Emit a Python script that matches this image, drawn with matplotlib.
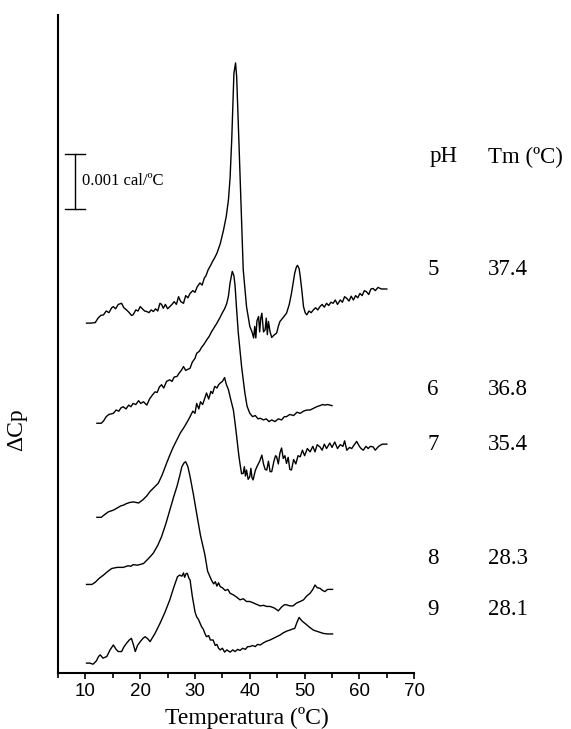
"""DSC thermograms of the protein at different pH, stacked vertically."""

import numpy as np
from matplotlib import pyplot as plt

# Temperature (ºC) and offset ΔCp (mcal/ºC) for each scan
t_ph5 = [10.2, 11.0, 11.8, 12.3, 12.8, 13.3, 13.8, 14.3, 14.8, 15.1, 15.5, 16.0,
         16.6, 17.0, 17.5, 18.0, 18.4, 18.7, 19.2, 19.6, 20.0, 20.4, 20.8, 21.2,
         21.6, 22.0, 22.4, 22.8, 23.2, 23.6, 23.9, 24.2, 24.6, 25.0, 25.4, 25.8,
         26.2, 26.6, 27.0, 27.4, 27.9, 28.3, 28.7, 29.1, 29.6, 30.0, 30.4, 30.9,
         31.3, 31.7, 32.0, 32.4, 32.8, 33.2, 33.6, 34.0, 34.6, 35.2, 35.7, 36.1,
         36.4, 36.7, 37.1, 37.4, 37.6, 38.0, 38.5, 38.8, 39.4, 40.0, 40.4, 40.7,
         40.9, 41.1, 41.3, 41.6, 41.8, 42.0, 42.2, 42.5, 42.8, 43.0, 43.2, 43.4,
         43.7, 44.0, 44.4, 44.9, 45.2, 45.5, 46.0, 46.7, 47.2, 47.6, 48.0, 48.2,
         48.5, 48.7, 49.0, 49.2, 49.5, 49.8, 50.1, 50.4, 50.8, 51.2, 51.6, 52.0,
         52.4, 52.8, 53.2, 53.6, 54.0, 54.4, 54.8, 55.2, 55.6, 56.0, 56.5, 56.9,
         57.3, 57.7, 58.1, 58.5, 58.9, 59.3, 59.7, 60.1, 60.5, 60.9, 61.3, 61.7,
         62.1, 62.5, 62.9, 63.4, 64.0, 65.0]
cp_ph5 = [6.36, 6.36, 6.37, 6.45, 6.50, 6.51, 6.58, 6.55, 6.64, 6.66, 6.62, 6.70,
          6.72, 6.64, 6.60, 6.55, 6.50, 6.51, 6.60, 6.58, 6.66, 6.62, 6.58, 6.57,
          6.55, 6.60, 6.57, 6.62, 6.58, 6.72, 6.70, 6.63, 6.70, 6.62, 6.66, 6.70,
          6.75, 6.70, 6.84, 6.75, 6.72, 6.86, 6.82, 6.90, 6.95, 6.92, 7.02, 7.09,
          7.05, 7.18, 7.22, 7.33, 7.40, 7.48, 7.55, 7.63, 7.80, 8.05, 8.30, 8.60,
          9.00, 9.69, 10.90, 11.09, 10.84, 9.69, 8.18, 7.33, 6.66, 6.30, 6.20, 6.09,
          6.30, 6.09, 6.40, 6.48, 6.20, 6.45, 6.54, 6.20, 6.24, 6.45, 6.15, 6.39,
          6.20, 6.10, 6.14, 6.18, 6.30, 6.39, 6.45, 6.54, 6.70, 6.90, 7.15, 7.27,
          7.38, 7.41, 7.35, 7.21, 6.95, 6.66, 6.55, 6.51, 6.58, 6.55, 6.60, 6.64,
          6.60, 6.66, 6.70, 6.65, 6.72, 6.68, 6.74, 6.72, 6.78, 6.70, 6.78, 6.74,
          6.84, 6.81, 6.76, 6.85, 6.78, 6.86, 6.82, 6.90, 6.86, 6.95, 6.93, 6.88,
          6.98, 6.99, 6.95, 7.01, 6.98, 6.98]

t_ph6 = [12.1, 12.9, 13.3, 13.8, 14.3, 15.1, 15.6, 16.1, 16.5, 16.9, 17.4, 17.9,
         18.3, 18.7, 19.2, 19.7, 20.1, 20.6, 21.2, 21.7, 22.2, 22.7, 23.1, 23.5,
         23.9, 24.3, 24.8, 25.4, 25.8, 26.2, 26.7, 27.1, 27.5, 27.9, 28.3, 28.7,
         29.1, 29.5, 30.0, 30.3, 30.8, 31.2, 31.6, 32.1, 32.6, 33.0, 33.5, 34.0,
         34.5, 35.0, 35.4, 35.8, 36.1, 36.4, 36.8, 37.1, 37.3, 37.6, 37.9, 38.5,
         39.1, 39.5, 40.0, 40.5, 41.0, 41.5, 41.9, 42.5, 43.0, 43.5, 44.0, 44.6,
         45.2, 45.8, 46.3, 46.7, 47.3, 48.0, 48.6, 49.2, 49.8, 50.4, 51.0, 51.6,
         52.2, 52.8, 53.3, 53.7, 54.2, 55.0]
cp_ph6 = [4.54, 4.54, 4.58, 4.66, 4.70, 4.72, 4.78, 4.76, 4.82, 4.84, 4.80, 4.87,
          4.84, 4.90, 4.88, 4.95, 4.90, 4.93, 4.87, 4.98, 5.05, 5.11, 5.10, 5.20,
          5.24, 5.18, 5.30, 5.33, 5.30, 5.38, 5.39, 5.45, 5.50, 5.57, 5.50, 5.52,
          5.54, 5.65, 5.72, 5.81, 5.85, 5.92, 5.97, 6.05, 6.12, 6.20, 6.28, 6.36,
          6.45, 6.55, 6.62, 6.72, 6.85, 7.09, 7.30, 7.22, 7.05, 6.60, 6.18, 5.57,
          5.09, 4.85, 4.72, 4.66, 4.68, 4.62, 4.63, 4.60, 4.62, 4.57, 4.60, 4.57,
          4.62, 4.60, 4.66, 4.66, 4.70, 4.68, 4.74, 4.72, 4.76, 4.78, 4.78, 4.81,
          4.84, 4.86, 4.88, 4.87, 4.88, 4.86]

t_ph7 = [12.1, 12.9, 13.5, 14.2, 15.1, 15.8, 16.5, 16.9, 17.5, 18.1, 18.8, 19.7,
         20.5, 21.2, 21.8, 22.5, 23.3, 24.0, 24.8, 25.4, 26.0, 26.7, 27.3, 27.9,
         28.5, 29.1, 29.6, 30.0, 30.3, 30.7, 31.0, 31.4, 31.8, 32.1, 32.5, 32.9,
         33.2, 33.6, 34.0, 34.3, 34.6, 35.0, 35.4, 35.7, 36.1, 36.5, 37.0, 37.3,
         37.6, 38.0, 38.2, 38.5, 38.8, 39.0, 39.2, 39.4, 39.7, 40.0, 40.2, 40.4,
         40.6, 41.0, 41.3, 41.8, 42.2, 42.5, 42.8, 43.1, 43.4, 43.7, 44.0, 44.4,
         44.7, 44.9, 45.2, 45.5, 45.8, 46.1, 46.4, 46.7, 47.0, 47.3, 47.6, 48.0,
         48.4, 48.8, 49.2, 49.6, 50.0, 50.5, 51.0, 51.5, 51.9, 52.3, 52.8, 53.2,
         53.6, 54.0, 54.6, 55.0, 55.5, 56.0, 56.5, 57.0, 57.3, 57.7, 58.2, 58.6,
         59.0, 59.5, 60.0, 60.3, 60.7, 61.2, 61.6, 62.0, 62.5, 62.9, 63.4, 63.8,
         64.2, 65.0]
cp_ph7 = [2.83, 2.83, 2.88, 2.93, 2.96, 3.00, 3.04, 3.05, 3.08, 3.10, 3.11, 3.09,
          3.15, 3.22, 3.30, 3.37, 3.45, 3.60, 3.81, 3.96, 4.10, 4.24, 4.36, 4.45,
          4.55, 4.66, 4.76, 4.72, 4.90, 4.80, 4.93, 4.88, 5.00, 5.09, 4.98, 5.12,
          5.08, 5.21, 5.18, 5.24, 5.27, 5.30, 5.37, 5.25, 5.15, 4.98, 4.78, 4.55,
          4.30, 3.95, 3.81, 3.62, 3.63, 3.75, 3.58, 3.69, 3.52, 3.57, 3.72, 3.55,
          3.51, 3.68, 3.75, 3.85, 3.96, 3.80, 3.70, 3.69, 3.85, 3.66, 3.66, 3.85,
          3.95, 3.93, 3.80, 4.00, 4.09, 3.90, 3.95, 3.81, 3.92, 3.70, 3.69, 3.88,
          3.80, 3.95, 3.93, 4.05, 3.95, 4.08, 4.02, 4.12, 4.02, 4.15, 4.11, 4.05,
          4.16, 4.08, 4.18, 4.10, 4.20, 4.08, 4.15, 4.12, 4.22, 4.05, 4.10, 4.08,
          4.14, 4.21, 4.12, 4.08, 4.05, 4.12, 4.08, 4.12, 4.11, 4.05, 4.11, 4.14,
          4.16, 4.16]

t_ph8 = [10.2, 11.2, 11.8, 12.5, 13.3, 14.0, 14.8, 15.8, 16.9, 17.8, 18.3, 18.7,
         19.5, 20.6, 21.5, 22.4, 23.2, 23.9, 24.7, 25.4, 26.1, 26.7, 27.2, 27.6,
         28.0, 28.3, 28.7, 29.1, 29.7, 30.3, 31.0, 31.8, 32.3, 33.0, 33.4, 33.7,
         34.0, 34.3, 34.6, 35.0, 35.5, 36.0, 36.4, 37.0, 37.6, 38.2, 38.8, 39.4,
         40.0, 40.5, 41.2, 41.9, 42.5, 43.1, 43.7, 44.5, 45.2, 45.8, 46.3, 46.7,
         47.3, 47.9, 48.5, 49.2, 49.8, 50.4, 51.0, 51.5, 51.9, 52.3, 52.8, 53.3,
         53.7, 54.2, 55.1]
cp_ph8 = [1.61, 1.61, 1.65, 1.72, 1.78, 1.84, 1.90, 1.92, 1.92, 1.95, 1.94, 1.97,
          1.96, 1.99, 2.08, 2.18, 2.32, 2.48, 2.72, 2.96, 3.20, 3.39, 3.58, 3.75,
          3.82, 3.84, 3.75, 3.57, 3.25, 2.90, 2.50, 2.15, 1.85, 1.69, 1.62, 1.66,
          1.58, 1.64, 1.57, 1.55, 1.50, 1.52, 1.45, 1.42, 1.38, 1.33, 1.35, 1.30,
          1.30, 1.28, 1.25, 1.22, 1.23, 1.21, 1.21, 1.18, 1.13, 1.20, 1.24, 1.24,
          1.22, 1.22, 1.27, 1.30, 1.33, 1.40, 1.45, 1.52, 1.60, 1.55, 1.54, 1.50,
          1.48, 1.52, 1.52]

t_ph9 = [10.2, 10.8, 11.4, 12.0, 12.4, 12.7, 13.2, 13.9, 14.5, 15.1, 15.6, 16.0,
         16.6, 17.0, 17.5, 18.0, 18.4, 18.8, 19.1, 19.5, 20.0, 20.5, 20.9, 21.4,
         21.8, 22.7, 23.6, 24.5, 25.4, 26.1, 26.8, 27.2, 27.6, 27.9, 28.1, 28.4,
         28.6, 28.9, 29.1, 29.5, 30.0, 30.3, 30.6, 31.2, 31.5, 31.8, 32.1, 32.5,
         32.8, 33.3, 33.7, 34.0, 34.3, 34.6, 35.0, 35.4, 35.8, 36.4, 36.9, 37.3,
         37.8, 38.2, 38.7, 39.2, 39.6, 40.0, 40.5, 41.0, 41.4, 41.9, 42.5, 43.1,
         43.7, 44.3, 44.9, 45.5, 46.1, 46.7, 47.3, 47.8, 48.2, 48.6, 49.0, 49.4,
         49.7, 50.1, 50.8, 51.6, 52.5, 53.4, 54.2, 55.1]
cp_ph9 = [0.18, 0.18, 0.16, 0.22, 0.30, 0.33, 0.27, 0.30, 0.42, 0.51, 0.43, 0.39,
          0.39, 0.47, 0.54, 0.60, 0.63, 0.50, 0.39, 0.50, 0.57, 0.63, 0.66, 0.62,
          0.57, 0.72, 0.90, 1.10, 1.33, 1.55, 1.75, 1.78, 1.76, 1.82, 1.74, 1.81,
          1.81, 1.72, 1.69, 1.40, 1.11, 1.02, 0.98, 0.84, 0.80, 0.72, 0.66, 0.68,
          0.60, 0.60, 0.50, 0.52, 0.45, 0.42, 0.45, 0.38, 0.42, 0.38, 0.42, 0.39,
          0.43, 0.41, 0.45, 0.43, 0.48, 0.48, 0.50, 0.48, 0.52, 0.51, 0.55, 0.58,
          0.60, 0.63, 0.66, 0.69, 0.73, 0.76, 0.78, 0.80, 0.81, 0.92, 1.01, 0.96,
          0.93, 0.90, 0.84, 0.78, 0.75, 0.72, 0.71, 0.71]

ph_values = ["5", "6", "7", "8", "9"]
tm_values = ["37.4", "36.8", "35.4", "28.3", "28.1"]
label_heights = [7.33, 5.15, 4.15, 2.09, 1.15]  # where each row of the table sits

serif = ["Liberation Serif", "DejaVu Serif"]

fig = plt.figure(figsize=(5.71, 7.29), dpi=100)
ax = fig.add_axes([0.1016, 0.0768, 0.6238, 0.9026])

for t, cp in [(t_ph5, cp_ph5), (t_ph6, cp_ph6), (t_ph7, cp_ph7),
              (t_ph8, cp_ph8), (t_ph9, cp_ph9)]:
    ax.plot(t, cp, color="black", lw=1.0)

ax.set_xlim(5, 70)
ax.set_ylim(0, 11.96)
ax.spines["top"].set_visible(False)
ax.spines["right"].set_visible(False)
for s in ("left", "bottom"):
    ax.spines[s].set_linewidth(1.5)
ax.set_yticks([])
ax.set_xticks(np.arange(10, 71, 10))
ax.set_xticks(np.arange(5, 71, 10), minor=True)
ax.tick_params(axis="x", which="major", length=4, width=1.2, labelsize=13.5, pad=3)
ax.tick_params(axis="x", which="minor", length=3.5, width=1.2)
for lbl in ax.get_xticklabels():
    lbl.set_family(["Liberation Sans", "DejaVu Sans"])

ax.set_xlabel("Temperatura (ºC)", family=serif, fontsize=17)
ax.xaxis.set_label_coords(0.531, -0.052)
ax.set_ylabel("ΔCp", family=serif, fontsize=17)
ax.yaxis.set_label_coords(-0.087, 0.37)

# scale bar: 0.001 cal/ºC = 1 mcal/ºC
ax.plot([8.1, 8.1], [8.44, 9.44], color="black", lw=1.0)
ax.plot([6.3, 10.0], [8.44, 8.44], color="black", lw=1.0)
ax.plot([6.3, 10.0], [9.44, 9.44], color="black", lw=1.0)
ax.text(9.3, 8.94, "0.001 cal/ºC", family=serif, fontsize=12, va="center", ha="left")

# pH / Tm table on the right
ax.text(75.3, 9.38, "pH", family=serif, fontsize=16.5, ha="center", va="center",
        clip_on=False)
ax.text(83.5, 9.38, "Tm (ºC)", family=serif, fontsize=16.5, ha="left", va="center",
        clip_on=False)
for ph, tm, h in zip(ph_values, tm_values, label_heights):
    ax.text(73.4, h, ph, family=serif, fontsize=16.5, ha="center", va="center",
            clip_on=False)
    ax.text(83.5, h, tm, family=serif, fontsize=16.5, ha="left", va="center",
            clip_on=False)

fig.savefig("out.png", dpi=100)
